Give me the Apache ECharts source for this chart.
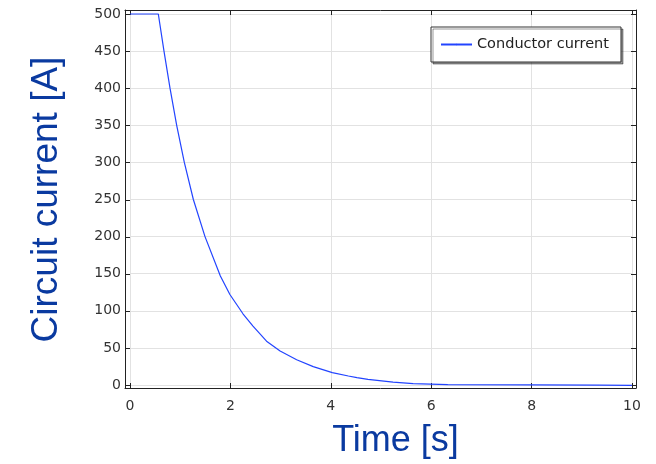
<!DOCTYPE html>
<html>
<head>
<meta charset="utf-8">
<script src="https://cdn.jsdelivr.net/npm/echarts@6/dist/echarts.min.js"></script>
<style>html,body{margin:0;padding:0;background:#fff;}#c{width:656px;height:464px;}</style>
</head>
<body>
<div id="c"></div>
<script>
// Data
const timeS = [0, 0.564, 0.677, 0.797, 0.93, 1.082, 1.262, 1.494, 1.8, 1.99, 2.25, 2.45, 2.72, 2.99, 3.32, 3.65, 4.03, 4.35, 4.52, 4.74, 5.24, 5.64, 6.33, 8, 9.35, 10];
const currentA = [500, 500, 450, 400, 350, 300, 250, 200, 147, 122, 96, 79.4, 59, 45.7, 34, 24.7, 16.7, 12.1, 10, 7.7, 4, 1.9, 0.5, 0.3, -0.3, -0.5];
const xTicks = [0, 2, 4, 6, 8, 10];
const yTicks = [0, 50, 100, 150, 200, 250, 300, 350, 400, 450, 500];
const seriesName = 'Conductor current';
const xTitle = 'Time [s]';
const yTitle = 'Circuit current [A]';

const points = timeS.map((t, i) => [t, currentA[i]]);
const tickFont = 'DejaVu Sans';
const frameColor = '#222';
const gridColor = '#e2e2e2';
const titleColor = '#0a3aa0';

const chart = echarts.init(document.getElementById('c'), null, {renderer: 'canvas'});

// frame axes (grid 1): slightly padded range around the data range
const fx = {min: -0.0996, max: 10.0797};
const fy = {min: -3.09, max: 505.38};
function frameAxis(extra, ticks) {
  return Object.assign({
    type: 'value', gridIndex: 1,
    axisLine: {show: true, onZero: false, lineStyle: {color: frameColor, width: 1}},
    axisTick: {show: true, inside: true, length: 5, customValues: ticks, lineStyle: {color: frameColor}},
    axisLabel: {show: false},
    splitLine: {show: false}
  }, extra);
}

const option = {
  animation: false,
  backgroundColor: '#fff',
  grid: [
    {left: 130, top: 14, right: 24, bottom: 78.3, containLabel: false},
    {left: 125, top: 10, right: 20, bottom: 76, containLabel: false}
  ],
  legend: {
    left: 431, top: 27,
    data: [seriesName],
    backgroundColor: '#fff', borderColor: '#333', borderWidth: 1, borderRadius: 0,
    padding: [10, 12, 10, 9],
    shadowColor: 'rgba(0,0,0,0.4)', shadowOffsetX: 2, shadowOffsetY: 2, shadowBlur: 0,
    itemWidth: 31, itemHeight: 2, itemGap: 7,
    textStyle: {fontFamily: tickFont, fontSize: 14.5, color: '#222'}
  },
  xAxis: [
    {
      type: 'value', gridIndex: 0, min: 0, max: 10, interval: 2,
      axisLine: {show: false}, axisTick: {show: false},
      name: xTitle, nameLocation: 'middle', nameGap: 38,
      nameTextStyle: {fontFamily: 'Liberation Sans', fontSize: 36, color: titleColor, padding: [0, 0, 0, 29]},
      axisLabel: {show: true, margin: 14, fontFamily: tickFont, fontSize: 14, color: '#333'},
      splitLine: {show: true, lineStyle: {color: gridColor, width: 1}}
    },
    frameAxis(Object.assign({position: 'bottom'}, fx), xTicks),
    frameAxis(Object.assign({position: 'top'}, fx), xTicks)
  ],
  yAxis: [
    {
      type: 'value', gridIndex: 0, min: 0, max: 500, interval: 50,
      axisLine: {show: false}, axisTick: {show: false},
      name: yTitle, nameLocation: 'middle', nameGap: 65,
      nameTextStyle: {fontFamily: 'Liberation Sans', fontSize: 37, color: titleColor},
      axisLabel: {show: true, margin: 9, fontFamily: tickFont, fontSize: 14, color: '#333'},
      splitLine: {show: true, lineStyle: {color: gridColor, width: 1}}
    },
    frameAxis(Object.assign({position: 'left'}, fy), yTicks),
    frameAxis(Object.assign({position: 'right'}, fy), yTicks)
  ],
  series: [{
    name: seriesName, type: 'line', xAxisIndex: 0, yAxisIndex: 0,
    data: points, showSymbol: false, symbol: 'none', clip: false,
    lineStyle: {color: '#2244ff', width: 1.2},
    itemStyle: {color: '#2244ff'}
  }]
};
chart.setOption(option);
</script>
</body>
</html>
